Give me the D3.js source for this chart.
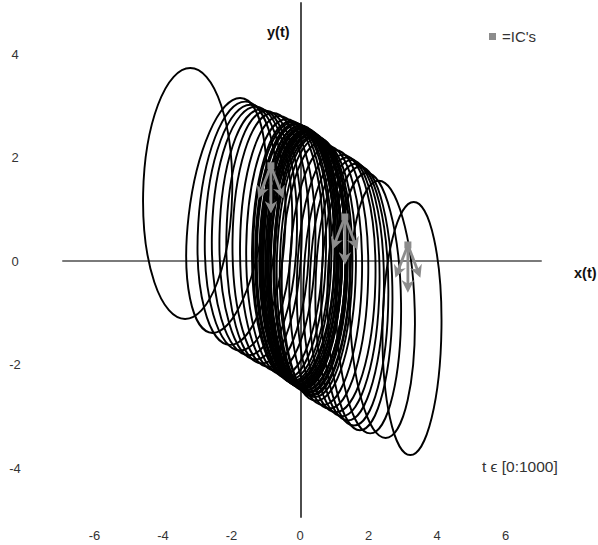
<!DOCTYPE html>
<html>
<head>
<meta charset="utf-8">
<script src="https://cdn.jsdelivr.net/npm/d3@7"></script>
<style>
  html, body { margin: 0; padding: 0; background: #fff; }
  svg { display: block; font-family: "Liberation Sans", Arial, sans-serif; }
</style>
</head>
<body>
<svg id="chart" width="598" height="545"></svg>
<script>
// Axis ticks
const xTicks = [-6, -4, -2, 0, 2, 4, 6];
const yTicks = [4, 2, 0, -2, -4];

// Orbit loops of the trajectory: horizontal centre, half-width,
// highest and lowest y reached, and horizontal lean (top x minus bottom x)
const loopCx = [-3.28, -2.15, -1.82, -1.60, -1.40, -1.22, -1.05, -0.85, -0.65, -0.45,
  -0.32, -0.25, -0.18, -0.15, -0.12, -0.07, -0.05, -0.03, 0.00, 0.04, 0.05, 0.08, 0.11,
  0.13, 0.15, 0.19, 0.21, 0.23, 0.27, 0.29, 0.31, 0.36, 0.40, 0.47,
  0.55, 0.75, 0.95, 1.15, 1.30, 1.45, 1.60, 1.75, 2.00, 2.40, 3.27];
const loopRx = [1.30, 1.10, 1.15, 1.17, 1.17, 1.13, 1.10, 1.12, 1.10, 1.12,
  1.08, 1.12, 1.10, 1.16, 1.14, 1.08, 1.12, 1.16, 1.12, 1.10, 1.14, 1.15, 1.12,
  1.10, 1.08, 1.14, 1.12, 1.10, 1.12, 1.06, 1.08, 1.10, 1.08, 1.06,
  1.08, 1.06, 1.04, 1.05, 1.02, 1.00, 0.98, 0.95, 0.95, 0.95, 0.86];
const loopTop = [3.73, 3.15, 3.08, 3.02, 2.98, 2.93, 2.90, 2.86, 2.80, 2.74,
  2.70, 2.68, 2.66, 2.65, 2.64, 2.60, 2.61, 2.62, 2.58, 2.56, 2.57, 2.57, 2.53,
  2.54, 2.52, 2.50, 2.51, 2.49, 2.46, 2.47, 2.45, 2.42, 2.41, 2.38,
  2.30, 2.22, 2.14, 2.05, 2.00, 1.95, 1.88, 1.82, 1.70, 1.55, 1.14];
const loopBottom = [-1.12, -1.39, -1.62, -1.73, -1.82, -1.90, -1.98, -2.05, -2.12, -2.20,
  -2.26, -2.29, -2.32, -2.34, -2.36, -2.35, -2.38, -2.40, -2.41, -2.40, -2.43, -2.45, -2.44,
  -2.46, -2.47, -2.50, -2.49, -2.50, -2.53, -2.54, -2.55, -2.58, -2.60, -2.63,
  -2.70, -2.78, -2.85, -2.92, -3.00, -3.08, -3.18, -3.27, -3.33, -3.42, -3.75];
const loopTilt = [0.15, 0.80, 0.44, 0.30, 0.20, 0.15, 0.12, 0.10, 0.10, 0.10,
  0.10, 0.08, 0.08, 0.08, 0.08, 0.08, 0.08, 0.08, 0.08, 0.08, 0.08, 0.08, 0.08,
  0.08, 0.08, 0.08, 0.08, 0.08, 0.08, 0.08, 0.08, 0.08, 0.10, 0.10,
  0.15, 0.15, 0.18, 0.20, 0.15, 0.10, 0.05, 0.00, -0.10, -0.20, 0.10];

// Initial conditions
const icX = [-0.85, 1.31, 3.15];
const icY = [1.84, 0.85, 0.31];

const svg = d3.select("#chart");
const x = d3.scaleLinear().domain([-7, 7]).range([60.25, 539.75]);
const y = d3.scaleLinear().domain([-5, 5]).range([519.75, 2.25]);

const loops = loopCx.map((cx, i) => ({
  cx, rx: loopRx[i],
  cy: (loopTop[i] + loopBottom[i]) / 2,
  ry: (loopTop[i] - loopBottom[i]) / 2,
  tilt: loopTilt[i]
}));

// Horizontal axis (grey) under the orbits
svg.append("line")
  .attr("x1", x(-7) + 2).attr("x2", x(7) + 2)
  .attr("y1", y(0)).attr("y2", y(0))
  .attr("stroke", "#7a7a7a").attr("stroke-width", 2);

// Orbits
const g = svg.append("g");
g.selectAll("g.loop").data(loops).join("g")
  .attr("class", "loop")
  .attr("transform", d => {
    const ryPx = y(0) - y(d.ry);
    const leanPx = x(d.tilt / 2) - x(0);
    const ang = Math.atan(-leanPx / ryPx) * 180 / Math.PI;
    return `translate(${x(d.cx)},${y(d.cy)}) skewX(${ang})`;
  })
  .append("ellipse")
  .attr("cx", 0).attr("cy", 0)
  .attr("rx", d => x(d.rx) - x(0))
  .attr("ry", d => y(0) - y(d.ry))
  .attr("fill", "none")
  .attr("stroke", "#000")
  .attr("stroke-width", 1.9);

// Vertical axis
svg.append("line")
  .attr("x1", x(0) + 1).attr("x2", x(0) + 1)
  .attr("y1", y(5)).attr("y2", y(-5) - 2)
  .attr("stroke", "#000").attr("stroke-width", 1.4);

// Arrow heads for flow direction
svg.append("defs").append("marker")
  .attr("id", "head")
  .attr("viewBox", "0 0 10 10")
  .attr("refX", 5).attr("refY", 5)
  .attr("markerWidth", 4.5).attr("markerHeight", 4.5)
  .attr("orient", "auto")
  .append("path")
  .attr("d", "M0,0 L10,5 L0,10 L3,5 z")
  .attr("fill", "#8c8c8c");

const flow = [[-0.30, -0.52], [0, -0.80], [0.30, -0.52]];
const icG = svg.append("g");
icX.forEach((cx, i) => {
  flow.forEach(([dx, dy]) => {
    icG.append("line")
      .attr("x1", x(cx)).attr("y1", y(icY[i]))
      .attr("x2", x(cx + dx)).attr("y2", y(icY[i] + dy))
      .attr("stroke", "#8c8c8c").attr("stroke-width", 2.8)
      .attr("marker-end", "url(#head)");
  });
});
icG.selectAll("rect").data(icX).join("rect")
  .attr("x", (d) => x(d) - 3.5)
  .attr("y", (d, i) => y(icY[i]) - 3.5)
  .attr("width", 7).attr("height", 7)
  .attr("fill", "#8c8c8c");

// Tick labels
svg.append("g").selectAll("text").data(xTicks).join("text")
  .attr("x", d => x(d)).attr("y", 540)
  .attr("text-anchor", "middle")
  .attr("font-size", 13).attr("fill", "#333")
  .text(d => d);
svg.append("g").selectAll("text").data(yTicks).join("text")
  .attr("x", 15).attr("y", d => y(d) + 4.5)
  .attr("text-anchor", "middle")
  .attr("font-size", 13).attr("fill", "#333")
  .text(d => d);

// Axis titles
svg.append("text").attr("x", 267).attr("y", 37)
  .attr("font-size", 14.5).attr("font-weight", "bold").attr("fill", "#111")
  .text("y(t)");
svg.append("text").attr("x", 574).attr("y", 278)
  .attr("font-size", 14.5).attr("font-weight", "bold").attr("fill", "#111")
  .text("x(t)");

// Legend
svg.append("rect").attr("x", 489).attr("y", 33).attr("width", 7).attr("height", 7)
  .attr("fill", "#8c8c8c");
svg.append("text").attr("x", 502).attr("y", 42)
  .attr("font-size", 15).attr("fill", "#333")
  .text("=IC's");

// Time range note
svg.append("text").attr("x", 482).attr("y", 472)
  .attr("font-size", 15.5).attr("fill", "#333")
  .text("t \u03F5 [0:1000]");
</script>
</body>
</html>
